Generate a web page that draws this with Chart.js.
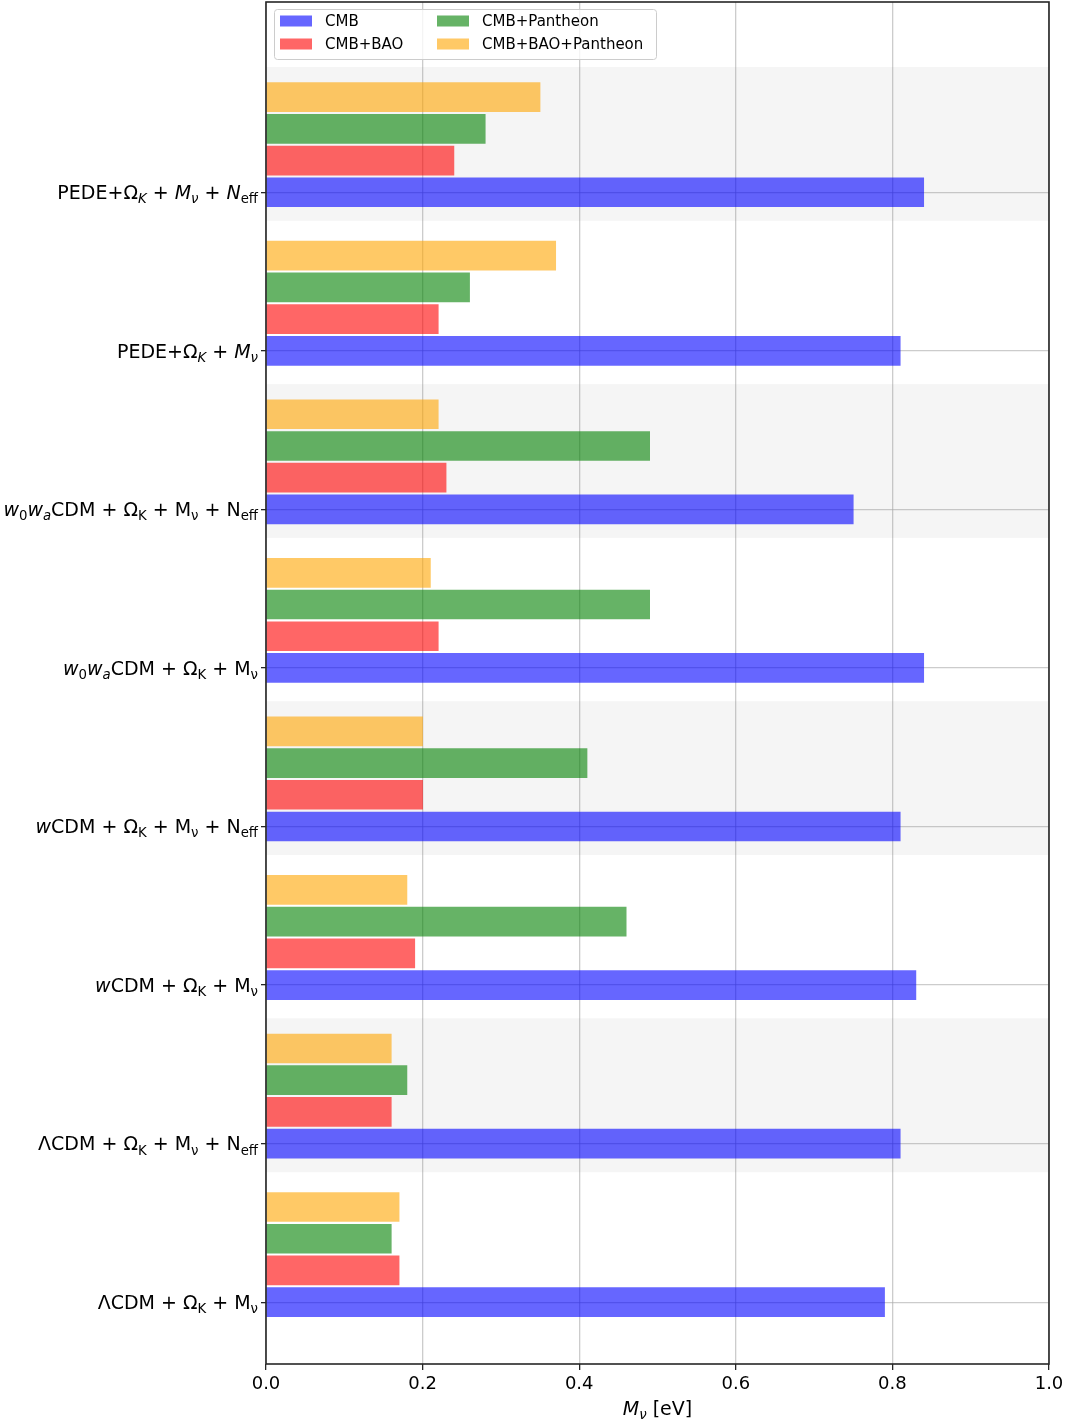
<!DOCTYPE html>
<html>
<head>
<meta charset="utf-8">
<script src="https://cdn.jsdelivr.net/npm/chart.js@4.4.0/dist/chart.umd.min.js"></script>
<style>
  html, body { margin: 0; padding: 0; background: #fff; }
  #wrap { width: 1073px; height: 1424px; }
</style>
</head>
<body>
<div id="wrap"><canvas id="chart" width="1073" height="1424"></canvas></div>
<script>
// modelos, de abajo hacia arriba (| separa trozos, _ = subindice, ~ = cursiva)
const modelos = [
  "ΛCDM + Ω|_K| + M|_ν",
  "ΛCDM + Ω|_K| + M|_ν| + N|_eff",
  "~w|CDM + Ω|_K| + M|_ν",
  "~w|CDM + Ω|_K| + M|_ν| + N|_eff",
  "~w|_0|~w|_~a|CDM + Ω|_K| + M|_ν",
  "~w|_0|~w|_~a|CDM + Ω|_K| + M|_ν| + N|_eff",
  "PEDE+Ω|_~K| + |~M|_~ν",
  "PEDE+Ω|_~K| + |~M|_~ν| + |~N|_eff",
];

const series = ["CMB", "CMB+BAO", "CMB+Pantheon", "CMB+BAO+Pantheon"];

// M_nu [eV], mismo orden que modelos
const cmb = [0.79, 0.81, 0.83, 0.81, 0.84, 0.75, 0.81, 0.84];
const cmbBao = [0.17, 0.16, 0.19, 0.2, 0.22, 0.23, 0.22, 0.24];
const cmbPantheon = [0.16, 0.18, 0.46, 0.41, 0.49, 0.49, 0.26, 0.28];
const cmbBaoPantheon = [0.17, 0.16, 0.18, 0.2, 0.21, 0.22, 0.37, 0.35];

const xTicks = [0, 0.2, 0.4, 0.6, 0.8, 1.0];
const xTitle = "~M|_~ν| [eV]";

// filas con fondo gris
const filasSombreadas = [1, 3, 5, 7];

const colores = [
  "rgba(0,0,255,0.6)",
  "rgba(255,0,0,0.6)",
  "rgba(0,128,0,0.6)",
  "rgba(255,165,0,0.6)",
];

const FONT = '"DejaVu Sans", sans-serif';
const PASO = 0.2; // separacion entre barras de un mismo grupo
const GRID = "rgba(170,170,170,0.6)";

function richText(ctx, markup, x, y, size, align) {
  const parts = markup.split("|").filter((p) => p).map((p) => {
    let sub = false, it = false;
    if (p[0] === "_") { sub = true; p = p.slice(1); }
    if (p[0] === "~") { it = true; p = p.slice(1); }
    return { p, sub, it };
  });
  const fontFor = (q) => `${q.it ? "italic " : ""}${q.sub ? size * 0.7 : size}px ${FONT}`;
  let w = 0;
  parts.forEach((q) => {
    ctx.font = fontFor(q);
    q.w = ctx.measureText(q.p).width;
    w += q.w;
  });
  let cx = align === "right" ? x - w : align === "center" ? x - w / 2 : x;
  ctx.textAlign = "left";
  ctx.textBaseline = "alphabetic";
  parts.forEach((q) => {
    ctx.font = fontFor(q);
    ctx.fillText(q.p, cx, y + (q.sub ? size * 0.22 : 0));
    cx += q.w;
  });
}

const valores = [cmb, cmbBao, cmbPantheon, cmbBaoPantheon];

const datasets = series.map((nombre, k) => ({
  label: nombre,
  data: valores[k].map((v, i) => ({ x: v, y: i + k * PASO })),
  backgroundColor: colores[k],
  borderWidth: 0,
  barThickness: 29,
  grouped: false,
}));

// fondo gris alterno
const bandas = {
  id: "bandas",
  beforeDatasetsDraw(chart) {
    const { ctx, chartArea, scales } = chart;
    ctx.save();
    ctx.fillStyle = "rgba(128,128,128,0.08)";
    filasSombreadas.forEach((i) => {
      const y1 = scales.y.getPixelForValue(i + 0.79);
      const y2 = scales.y.getPixelForValue(i - 0.18);
      ctx.fillRect(chartArea.left, y1, chartArea.right - chartArea.left, y2 - y1);
    });
    ctx.restore();
  },
};

// etiquetas, marco y leyenda
const extras = {
  id: "extras",
  afterDraw(chart) {
    const { ctx, chartArea, scales } = chart;
    ctx.save();
    ctx.fillStyle = "#000";
    modelos.forEach((m, i) => {
      const y = scales.y.getPixelForValue(i);
      richText(ctx, m, chartArea.left - 8, y + 6.8, 19, "right");
    });
    richText(ctx, xTitle, (chartArea.left + chartArea.right) / 2, 1415, 19, "center");

    ctx.strokeStyle = "#262626";
    ctx.lineWidth = 1.6;
    ctx.strokeRect(chartArea.left, chartArea.top, chartArea.right - chartArea.left, chartArea.bottom - chartArea.top);

    // leyenda en dos columnas
    const lx = chartArea.left + 8, ly = chartArea.top + 7;
    ctx.beginPath();
    ctx.roundRect(lx + 0.5, ly + 0.5, 382, 50, 3);
    ctx.fillStyle = "rgba(255,255,255,0.8)";
    ctx.fill();
    ctx.strokeStyle = "#cccccc";
    ctx.lineWidth = 1;
    ctx.stroke();
    ctx.font = `15px ${FONT}`;
    ctx.textBaseline = "middle";
    ctx.textAlign = "left";
    chart.data.datasets.forEach((ds, i) => {
      const col = Math.floor(i / 2), row = i % 2;
      const px = lx + 6 + col * 157;
      const py = ly + 12 + row * 23;
      ctx.fillStyle = ds.backgroundColor;
      ctx.fillRect(px, py - 5.5, 32, 11);
      ctx.fillStyle = "#000";
      ctx.fillText(ds.label, px + 45, py + 1);
    });
    ctx.restore();
  },
};

new Chart(document.getElementById("chart"), {
  type: "bar",
  data: { datasets },
  options: {
    indexAxis: "y",
    responsive: false,
    animation: false,
    events: [],
    layout: { padding: { left: 0, top: 2, right: 24, bottom: 0 } },
    plugins: { legend: { display: false }, tooltip: { enabled: false } },
    scales: {
      x: {
        type: "linear",
        min: 0,
        max: 1,
        z: 1,
        afterBuildTicks: (s) => { s.ticks = xTicks.map((v) => ({ value: v })); },
        afterFit: (s) => { s.height = 60; },
        ticks: {
          color: "#000",
          font: { family: FONT, size: 18 },
          padding: 4,
          maxRotation: 0,
          callback: (v) => Number(v).toFixed(1),
        },
        grid: { color: GRID, lineWidth: 1.3, tickColor: "#262626", tickLength: 6 },
        border: { display: false },
      },
      y: {
        type: "linear",
        min: -0.39,
        max: 8.2,
        offset: false,
        z: 1,
        afterBuildTicks: (s) => { s.ticks = modelos.map((_, i) => ({ value: i })); },
        afterFit: (s) => { s.width = 266; s.paddingTop = 0; s.paddingBottom = 0; },
        ticks: { display: false },
        grid: { offset: false, color: GRID, lineWidth: 1.3, tickColor: "#262626", tickLength: 5 },
        border: { display: false },
      },
    },
  },
  plugins: [bandas, extras],
});
</script>
</body>
</html>
